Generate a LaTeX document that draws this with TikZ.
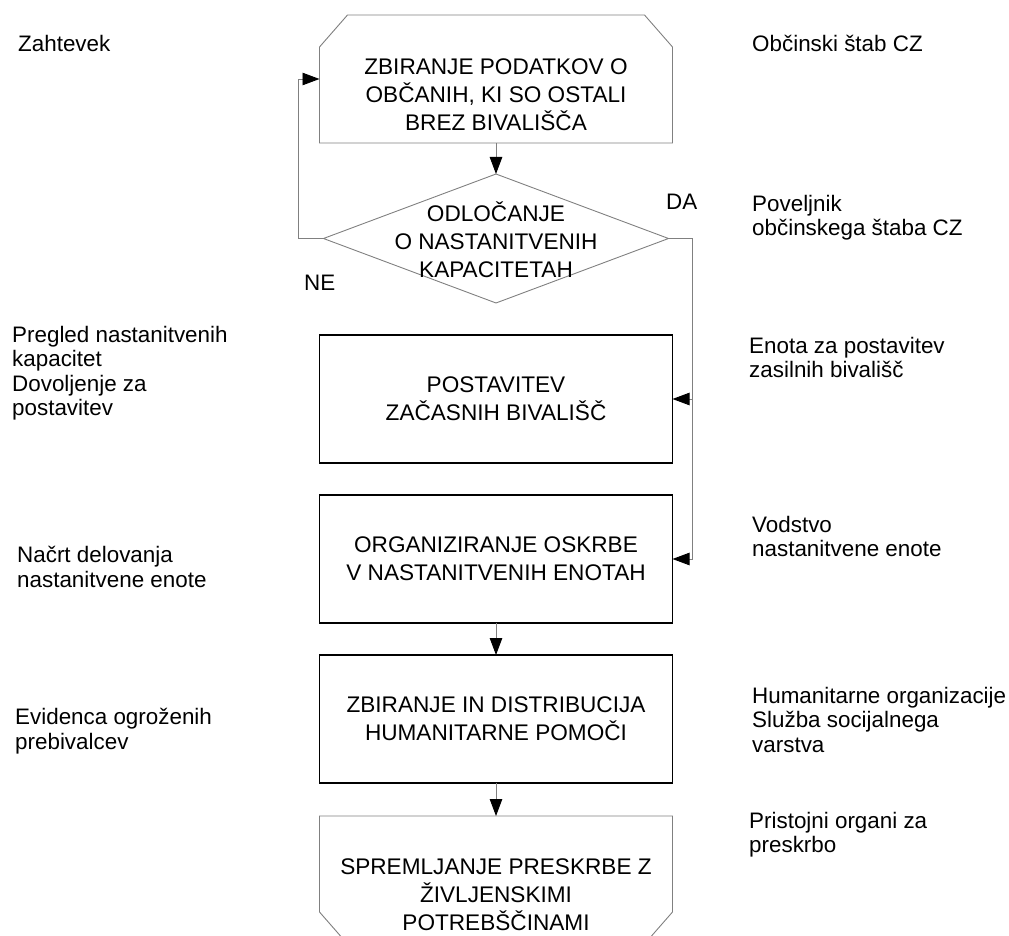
\documentclass[tikz,border=0pt]{standalone}
\usepackage{fontspec}
\setmainfont{Liberation Sans}
\usetikzlibrary{arrows.meta,positioning,shapes.geometric}

\definecolor{linegray}{gray}{0.5}

\tikzset{
  stepbox/.style={draw=black,line width=1.4pt,inner sep=0pt,outer sep=0pt,
    minimum width=353pt,minimum height=128pt,align=center,
    font=\fontsize{22.6pt}{28pt}\selectfont},
  endbox/.style={inner sep=0pt,outer sep=0pt,minimum width=353pt,minimum height=128pt},
  boxtext/.style={inner sep=0pt,align=center,font=\fontsize{22.6pt}{28pt}\selectfont},
  note/.style={inner sep=0pt,anchor=north west,align=left,font=\fontsize{22.4pt}{24.5pt}\selectfont},
  flow/.style={->,draw=linegray,line width=0.9pt},
  outline/.style={draw=linegray,line width=0.9pt},
}

\begin{document}
\begin{tikzpicture}[x=1pt,y=-1pt,>={Triangle[length=17pt,width=12.5pt,color=black]},
  node distance=32pt]
  \useasboundingbox (0,0) rectangle (1009,936);

  % main column
  \node[endbox] (zbir) at (496,79) {};
  \node[outline,diamond,inner sep=0pt,outer sep=0pt,minimum width=345pt,minimum height=129pt,
    below=31pt of zbir] (dec) {};
  \node[stepbox,below=of dec] (post) {POSTAVITEV\\ZAČASNIH BIVALIŠČ};
  \node[stepbox,below=of post] (organ) {ORGANIZIRANJE OSKRBE\\V NASTANITVENIH ENOTAH};
  \node[stepbox,below=of organ] (humani) {ZBIRANJE IN DISTRIBUCIJA\\HUMANITARNE POMOČI};
  \node[endbox,below=33pt of humani] (sprem) {};

  % chamfered first and last step
  \draw[outline] (zbir.south west) -- ([yshift=-32pt]zbir.north west) -- ([xshift=28pt]zbir.north west)
    -- ([xshift=-28pt]zbir.north east) -- ([yshift=-32pt]zbir.north east) -- (zbir.south east) -- cycle;
  \draw[outline] (sprem.north west) -- ([yshift=32pt]sprem.south west) -- ([xshift=28pt]sprem.south west)
    -- ([xshift=-28pt]sprem.south east) -- ([yshift=32pt]sprem.south east) -- (sprem.north east) -- cycle;

  \node[boxtext,yshift=-15.5pt] (zbirtxt) at (zbir) {ZBIRANJE PODATKOV O\\OBČANIH, KI SO OSTALI\\BREZ BIVALIŠČA};
  \node[boxtext,yshift=-1pt] (dectxt) at (dec) {ODLOČANJE\\O NASTANITVENIH\\KAPACITETAH};
  \node[boxtext,yshift=-15pt] (spremtxt) at (sprem) {SPREMLJANJE PRESKRBE Z\\ŽIVLJENSKIMI\\POTREBŠČINAMI};

  % connectors
  \coordinate[left=25pt of dec] (loop);
  \coordinate[right=24pt of dec] (rail);
  \draw[flow] (zbir) -- (dec);
  \draw[flow] (dec) -- (loop) |- (zbir);
  \draw[flow] (dec) -- (rail) |- (organ);
  \draw[flow] (rail |- post) -- (post);
  \draw[flow] (organ) -- (humani);
  \draw[flow] (humani) -- (sprem);

  % side notes
  \node[note] (zahtevek) at (18,35) {Zahtevek};
  \node[note] (obcstab) at (752,35) {Občinski štab CZ};
  \node[note] (da) at (666,194) {DA};
  \node[note] (ne) at (304,275) {NE};
  \node[note] (poveljnik) at (752,195) {Poveljnik\\občinskega štaba CZ};
  \node[note] (pregled) at (12,326) {Pregled nastanitvenih\\kapacitet\\Dovoljenje za\\postavitev};
  \node[note] (enota) at (749,337) {Enota za postavitev\\zasilnih bivališč};
  \node[note] (vodstvo) at (752,516) {Vodstvo\\nastanitvene enote};
  \node[note] (nacrt) at (17,546) {Načrt delovanja\\nastanitvene enote};
  \node[note] (humorg) at (752,687) {Humanitarne organizacije\\Služba socijalnega\\varstva};
  \node[note] (evidenca) at (15,708) {Evidenca ogroženih\\prebivalcev};
  \node[note] (pristojni) at (749,812) {Pristojni organi za\\preskrbo};
\end{tikzpicture}
\end{document}
